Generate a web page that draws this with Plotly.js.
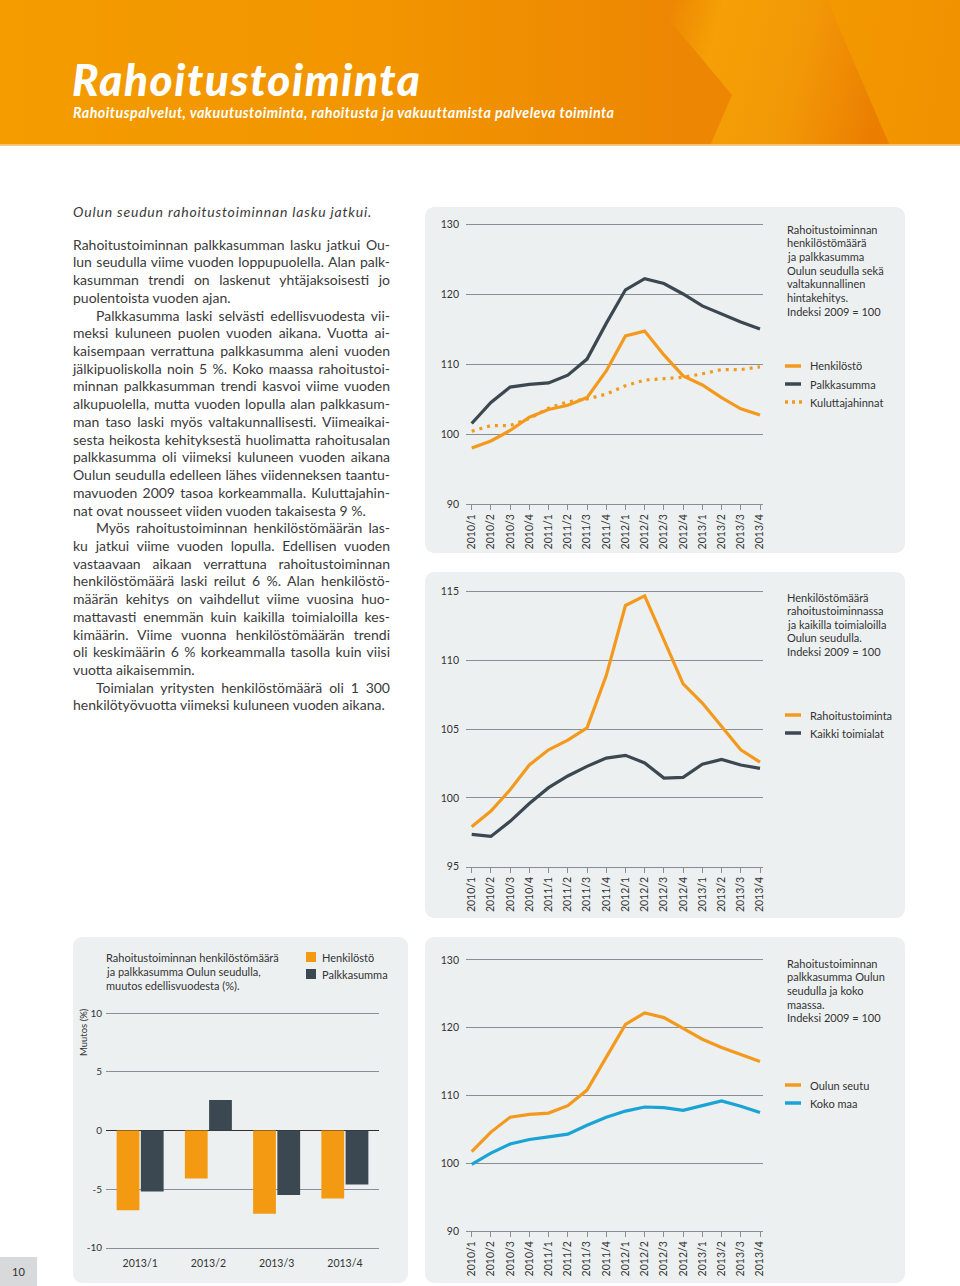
<!DOCTYPE html>
<html><head><meta charset="utf-8">
<script src="https://cdn.plot.ly/plotly-3.0.1.min.js"></script>
<style>
html,body{margin:0;padding:0;background:#fff;}
body{width:960px;height:1286px;position:relative;overflow:hidden;font-family:Lato,"Open Sans",sans-serif;}
.panel{position:absolute;background:#edf0f1;border-radius:9px;z-index:0;}
#chart{position:absolute;left:0;top:0;width:960px;height:1286px;z-index:1;}
#header{position:absolute;left:0;top:0;width:960px;height:146px;z-index:2;overflow:hidden;
  background:linear-gradient(90deg,#f49c00 0%,#f29500 40%,#ed8703 70%,#ec8503 100%);}
#header .poly{position:absolute;top:0;height:146px;}
#hp1{left:0;width:960px;clip-path:polygon(653px 0,827px 0,890px 146px,710px 146px,732px 95px);
  background:linear-gradient(105deg,rgba(0,0,0,0) 0px,rgba(0,0,0,0) 650px,#f5a005 700px,#f29807 790px,#eb7d00 880px);}
#hp2{left:0;width:960px;clip-path:polygon(827px 0,960px 0,960px 146px,890px 146px);
  background:linear-gradient(100deg,#f39900 800px,#f19200 960px);}
#hline{position:absolute;left:0;top:144px;width:960px;height:2px;background:#f6c37c;z-index:3;}
#title{position:absolute;left:72px;top:57px;font-size:44px;line-height:44px;font-weight:900;font-style:italic;color:#fff;white-space:nowrap;letter-spacing:1.6px;z-index:3;}
#subtitle{position:absolute;left:73px;top:106px;font-size:14.3px;line-height:14.3px;font-weight:700;font-style:italic;color:#fff;white-space:nowrap;letter-spacing:0.48px;z-index:3;}
#text{position:absolute;left:73px;top:203px;width:317px;z-index:2;color:#3a3a3a;font-size:14px;}
#text .h{height:17.73px;line-height:17.73px;font-style:italic;white-space:nowrap;margin-bottom:15px;letter-spacing:0.82px;}
#text .ln{height:17.73px;line-height:17.73px;white-space:nowrap;text-align:left;}
#text .ln.j{text-align:justify;text-align-last:justify;}
#text .ln.ind{padding-left:23px;}
#pnum{position:absolute;left:0;top:1257px;width:37px;height:29px;background:#d8d9da;color:#333;font-size:11px;line-height:29px;text-align:center;z-index:2;}
</style>
</head>
<body>
<div id="header">
  <div class="poly" id="hp1"></div>
  <div class="poly" id="hp2"></div>
</div>
<div id="hline"></div>
<div id="title">Rahoitustoiminta</div>
<div id="subtitle">Rahoituspalvelut, vakuutustoiminta, rahoitusta ja vakuuttamista palveleva toiminta</div>
<div id="text"></div>
<div class="panel" style="left:425px;top:207px;width:480px;height:346px;"></div>
<div class="panel" style="left:425px;top:572px;width:480px;height:346px;"></div>
<div class="panel" style="left:73px;top:937px;width:335px;height:346px;"></div>
<div class="panel" style="left:425px;top:937px;width:480px;height:346px;"></div>
<div id="pnum">10</div>
<div id="chart"></div>
<script>
// ---------------- DATA ----------------
const quarters = ["2010/1","2010/2","2010/3","2010/4","2011/1","2011/2","2011/3","2011/4",
                  "2012/1","2012/2","2012/3","2012/4","2013/1","2013/2","2013/3","2013/4"];
// Chart 1: index 2009 = 100
const henkilosto1      = [98.0, 99.0, 100.5, 102.4, 103.5, 104.1, 105.2, 109.0, 114.0, 114.7, 111.3, 108.3, 107.0, 105.2, 103.6, 102.7];
const palkkasumma1     = [101.5, 104.5, 106.7, 107.1, 107.3, 108.4, 110.7, 115.8, 120.6, 122.2, 121.5, 120.0, 118.3, 117.1, 116.0, 115.0];
const kuluttajahinnat1 = [100.4, 101.2, 101.2, 102.2, 103.7, 104.6, 105.0, 105.7, 106.9, 107.7, 107.9, 108.1, 108.6, 109.2, 109.2, 109.6];
// Chart 2: henkilöstömäärä, index 2009 = 100
const rahoitustoiminta2 = [97.9, 99.05, 100.6, 102.4, 103.5, 104.2, 105.1, 108.9, 114.0, 114.7, 111.5, 108.3, 106.9, 105.2, 103.5, 102.6];
const kaikkiToimialat2  = [97.35, 97.2, 98.3, 99.6, 100.75, 101.6, 102.3, 102.9, 103.1, 102.55, 101.45, 101.5, 102.45, 102.8, 102.4, 102.15];
// Chart 4: palkkasumma, index 2009 = 100
const oulunSeutu4 = [101.7, 104.6, 106.8, 107.2, 107.4, 108.5, 110.8, 115.7, 120.5, 122.2, 121.5, 119.9, 118.3, 117.1, 116.0, 115.0];
const kokoMaa4    = [99.85, 101.5, 102.85, 103.5, 103.9, 104.3, 105.6, 106.8, 107.7, 108.3, 108.2, 107.8, 108.5, 109.2, 108.4, 107.5];
// Bar chart: muutos edellisvuodesta (%)
const barQuarters = ["2013/1","2013/2","2013/3","2013/4"];
const barHenkilosto = [-6.8, -4.1, -7.1, -5.8];
const barPalkkasumma = [-5.2, 2.6, -5.5, -4.6];
// Tick labels
const ticks1 = [90,100,110,120,130];
const ticks2 = [95,100,105,110,115];
const ticksBar = [-10,-5,0,5,10];
const ticksBarText = ["-10","-5","0","5","10"];

// ---------------- BODY TEXT ----------------
const heading = "Oulun seudun rahoitustoiminnan lasku jatkui.";
const bodyLines = [
 ["Rahoitustoiminnan palkkasumman lasku jatkui Ou-","j"],
 ["lun seudulla viime vuoden loppupuolella. Alan palk-","j"],
 ["kasumman trendi on laskenut yhtäjaksoisesti jo","j"],
 ["puolentoista vuoden ajan.",""],
 ["Palkkasumma laski selvästi edellisvuodesta vii-","j ind"],
 ["meksi kuluneen puolen vuoden aikana. Vuotta ai-","j"],
 ["kaisempaan verrattuna palkkasumma aleni vuoden","j"],
 ["jälkipuoliskolla noin 5 %. Koko maassa rahoitustoi-","j"],
 ["minnan palkkasumman trendi kasvoi viime vuoden","j"],
 ["alkupuolella, mutta vuoden lopulla alan palkkasum-","j"],
 ["man taso laski myös valtakunnallisesti. Viimeaikai-","j"],
 ["sesta heikosta kehityksestä huolimatta rahoitusalan","j"],
 ["palkkasumma oli viimeksi kuluneen vuoden aikana","j"],
 ["Oulun seudulla edelleen lähes viidenneksen taantu-","j"],
 ["mavuoden 2009 tasoa korkeammalla. Kuluttajahin-","j"],
 ["nat ovat nousseet viiden vuoden takaisesta 9 %.",""],
 ["Myös rahoitustoiminnan henkilöstömäärän las-","j ind"],
 ["ku jatkui viime vuoden lopulla. Edellisen vuoden","j"],
 ["vastaavaan aikaan verrattuna rahoitustoiminnan","j"],
 ["henkilöstömäärä laski reilut 6 %. Alan henkilöstö-","j"],
 ["määrän kehitys on vaihdellut viime vuosina huo-","j"],
 ["mattavasti enemmän kuin kaikilla toimialoilla kes-","j"],
 ["kimäärin. Viime vuonna henkilöstömäärän trendi","j"],
 ["oli keskimäärin 6 % korkeammalla tasolla kuin viisi","j"],
 ["vuotta aikaisemmin.",""],
 ["Toimialan yritysten henkilöstömäärä oli 1 300","j ind"],
 ["henkilötyövuotta viimeksi kuluneen vuoden aikana.",""]
];
(function buildText(){
  const box = document.getElementById('text');
  const h = document.createElement('div'); h.className='h'; h.textContent = heading; box.appendChild(h);
  bodyLines.forEach(([t,c])=>{
    const d = document.createElement('div');
    d.className = 'ln' + (c.indexOf('ind')>=0 ? ' ind':'');
    d.dataset.j = c.indexOf('j')>=0 ? '1':'0';
    const s = document.createElement('span'); s.textContent = t; d.appendChild(s);
    box.appendChild(d);
  });
})();
function fitText(){
  document.querySelectorAll('#text .ln').forEach(el=>{
    const s = el.firstChild;
    const pl = parseFloat(getComputedStyle(el).paddingLeft)||0;
    const avail = 317 - pl;
    const w = s.getBoundingClientRect().width;
    if (w > avail - 1) {
      const n = s.textContent.length;
      s.style.letterSpacing = ((avail - 1 - w)/n) + 'px';
    }
    if (el.dataset.j === '1') el.classList.add('j');
  });
}

// ---------------- CHART ----------------
const W = 960, H = 1286;
const X = p => p / W;
const Y = p => 1 - p / H;
const FONT = "Lato, 'Open Sans', sans-serif";
const TXT = "#333333";
const GRID = "#8a8e91";
const ORANGE = "#f39a1e";
const DARK = "#3c4851";
const BLUE = "#1aa3d4";
const LW = 3.2;

function lineX(anchor){
  return {domain:[X(466),X(763)], anchor, type:'category', categoryorder:'array', categoryarray:quarters,
    range:[-0.296,15.156], showgrid:false, zeroline:false, showline:true, linecolor:GRID, linewidth:1,
    ticks:'outside', ticklen:5, tickcolor:GRID, tickwidth:1, tickangle:-90,
    tickfont:{family:FONT,size:10.5,color:TXT}, fixedrange:true};
}
function lineY(anchor, top, bottom, range, vals){
  return {domain:[Y(bottom),Y(top)], anchor, range, tickvals:vals, ticktext:vals.map(String),
    showgrid:true, gridcolor:GRID, gridwidth:1, zeroline:false, showline:false, ticks:'',
    ticklabelstandoff:6, tickfont:{family:FONT,size:10.5,color:TXT}, fixedrange:true};
}
function tr(y, color, xa, ya, dash){
  return {type:'scatter', mode:'lines', x:quarters, y, xaxis:xa, yaxis:ya, showlegend:false,
    line:{color, width:LW, dash:dash||'solid'}, hoverinfo:'skip'};
}
const data = [
  tr(kuluttajahinnat1, ORANGE, 'x','y','3px,5px'),
  tr(henkilosto1, ORANGE, 'x','y'),
  tr(palkkasumma1, DARK, 'x','y'),
  tr(kaikkiToimialat2, DARK, 'x2','y2'),
  tr(rahoitustoiminta2, ORANGE, 'x2','y2'),
  tr(kokoMaa4, BLUE, 'x3','y3'),
  tr(oulunSeutu4, ORANGE, 'x3','y3'),
  {type:'bar', name:'Henkilöstö', x:barQuarters, y:barHenkilosto, xaxis:'x4', yaxis:'y4', marker:{color:'#f39a12'}, showlegend:false, hoverinfo:'skip'},
  {type:'bar', name:'Palkkasumma', x:barQuarters, y:barPalkkasumma, xaxis:'x4', yaxis:'y4', marker:{color:DARK}, showlegend:false, hoverinfo:'skip'}
];

const annotations = [];
const shapes = [];
function txt(x, y, text, size, extra){
  annotations.push(Object.assign({xref:'paper', yref:'paper', x:X(x), y:Y(y), text, showarrow:false,
    xanchor:'left', yanchor:'middle', align:'left', borderpad:0,
    font:{family:FONT, size:size||11, color:TXT}}, extra||{}));
}
function block(x, y0, step, lines, size){ lines.forEach((l,i)=>txt(x, y0+i*step, l, size)); }
function swatchLine(x0, x1, y, color, dash){
  shapes.push({type:'line', xref:'paper', yref:'paper', x0:X(x0), x1:X(x1), y0:Y(y), y1:Y(y),
    line:{color, width:3.5, dash:dash||'solid'}});
}
function swatchSq(x0, y0, s, color){
  shapes.push({type:'rect', xref:'paper', yref:'paper', x0:X(x0), x1:X(x0+s), y0:Y(y0+s), y1:Y(y0),
    line:{width:0}, fillcolor:color});
}

// Chart 1 texts
block(786, 229, 13.7, ["Rahoitustoiminnan","henkilöstömäärä","ja palkkasumma","Oulun seudulla sekä",
  "valtakunnallinen","hintakehitys.","Indeksi 2009 = 100"], 11);
swatchLine(785, 801, 366, ORANGE); txt(809, 366, "Henkilöstö", 11);
swatchLine(785, 801, 384, DARK); txt(809, 384, "Palkkasumma", 11);
swatchLine(785, 803, 402, ORANGE, '3px,4px'); txt(809, 402, "Kuluttajahinnat", 11);
// Chart 2 texts
block(786, 597, 13.6, ["Henkilöstömäärä","rahoitustoiminnassa","ja kaikilla toimialoilla","Oulun seudulla.",
  "Indeksi 2009 = 100"], 11);
swatchLine(785, 801, 715, ORANGE); txt(809, 715, "Rahoitustoiminta", 11);
swatchLine(785, 801, 733, DARK); txt(809, 733, "Kaikki toimialat", 11);
// Chart 4 texts
block(786, 963, 13.7, ["Rahoitustoiminnan","palkkasumma Oulun","seudulla ja koko","maassa.",
  "Indeksi 2009 = 100"], 11);
swatchLine(785, 801, 1085, ORANGE); txt(809, 1085, "Oulun seutu", 11);
swatchLine(785, 801, 1103, BLUE); txt(809, 1103, "Koko maa", 11);
// Bar chart texts
block(105, 957, 14, ["Rahoitustoiminnan henkilöstömäärä","ja palkkasumma Oulun seudulla,",
  "muutos edellisvuodesta (%)."], 11);
swatchSq(306, 952, 10, '#f39a12'); txt(321, 957, "Henkilöstö", 11);
swatchSq(306, 969, 10, DARK); txt(321, 974, "Palkkasumma", 11);
annotations.push({xref:'paper', yref:'paper', x:X(83), y:Y(1032), text:"Muutos (%)", showarrow:false,
  textangle:-90, xanchor:'center', yanchor:'middle', borderpad:0, font:{family:FONT, size:9.5, color:TXT}});

const layout = {
  width:W, height:H, margin:{l:0,r:0,t:0,b:0}, paper_bgcolor:'rgba(0,0,0,0)', plot_bgcolor:'rgba(0,0,0,0)',
  showlegend:false, barmode:'group', bargap:0.29, bargroupgap:0.06,
  xaxis: lineX('y'),
  yaxis: lineY('x', 220.5, 504, [90,130.5], ticks1),
  xaxis2: lineX('y2'),
  yaxis2: lineY('x2', 587.6, 866.7, [95,115.3], ticks2),
  xaxis3: lineX('y3'),
  yaxis3: lineY('x3', 956.6, 1231, [90,130.5], ticks1),
  xaxis4: {domain:[X(106),X(379)], anchor:'y4', type:'category', categoryorder:'array', categoryarray:barQuarters,
    showgrid:false, zeroline:false, showline:true, linecolor:GRID, linewidth:1, ticks:'', ticklabelstandoff:6,
    tickfont:{family:FONT,size:10.5,color:TXT}, fixedrange:true},
  yaxis4: {domain:[Y(1247.7),Y(1009.8)], anchor:'x4', range:[-10,10.3], tickvals:ticksBar, ticktext:ticksBarText,
    showgrid:true, gridcolor:GRID, gridwidth:1, zeroline:true, zerolinecolor:'#2f2f2f', zerolinewidth:1.2,
    showline:false, ticks:'', ticklabelstandoff:3, tickfont:{family:FONT,size:10,color:TXT}, fixedrange:true},
  annotations, shapes,
  font:{family:FONT, color:TXT}
};
Plotly.newPlot('chart', data, layout, {displayModeBar:false, staticPlot:true});

if (document.fonts && document.fonts.ready) { document.fonts.ready.then(fitText); } else { fitText(); }
</script>
</body></html>
